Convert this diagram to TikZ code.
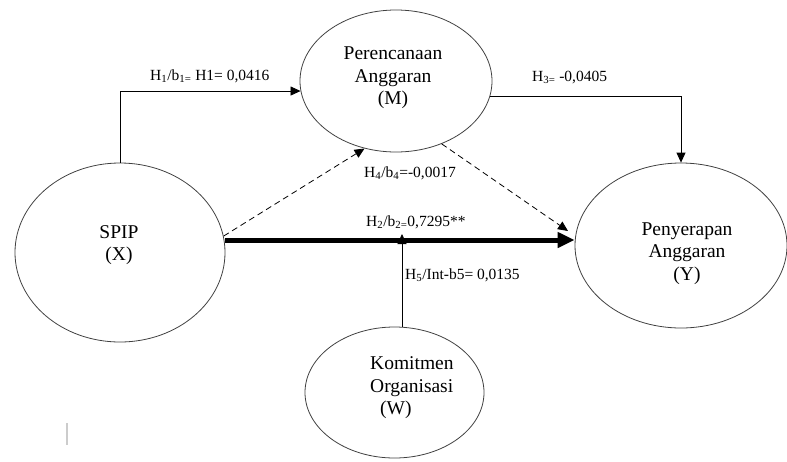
\documentclass[tikz,border=0pt]{standalone}
\usepackage{fontspec}
\setmainfont{Liberation Serif}
\usetikzlibrary{arrows.meta,shapes.geometric}
\begin{document}
\begin{tikzpicture}[x=1pt,y=-1pt,
  latent/.style={draw=black!75, line width=0.8pt, ellipse, inner sep=0pt},
  nodetext/.style={align=center, font=\fontsize{19.5}{22.5}\selectfont, inner sep=0pt},
  lab/.style={font=\fontsize{15.5}{18}\selectfont, inner sep=0pt, anchor=base west},
  conn/.style={draw=black, line width=0.8pt, -{Triangle[length=10pt,width=9pt]}},
  dconn/.style={conn, dash pattern=on 6pt off 4pt},
  bigconn/.style={draw=black, line width=5pt, -{Triangle[length=17pt,width=15pt]}}
]
\useasboundingbox (0,0) rectangle (787,461);

% latent variables
\node[latent, minimum width=210pt, minimum height=179pt] (x) at (120,252.5) {};
\node[latent, minimum width=192pt, minimum height=142pt] (m) at (396,81) {};
\node[latent, minimum width=212pt, minimum height=165pt] (y) at (681,245.5) {};
\node[latent, minimum width=179pt, minimum height=131pt] (w) at (394.5,392.5) {};

\node[nodetext] (xt) at (119,245) {SPIP\\(X)};
\node[nodetext] (mt) at (393,78) {Perencanaan\\Anggaran\\(M)};
\node[nodetext] (yt) at (687,253.5) {Penyerapan\\Anggaran\\(Y)};
\node[nodetext, align=left, anchor=west] (wt) at (370,387.7) {Komitmen\\Organisasi\\\hspace*{10pt}(W)};

% connectors
\coordinate (hl) at (0,240);
\coordinate (j) at (402,234);
\coordinate (dy) at (568,231);

\draw[conn] (x.north) |- (m.186.6);
\draw[conn] (m.351.5) -| (y.north);
\draw[dconn] (x.9) -- (m.245.2);
\draw[dconn] (m.306.3) -- (dy);
\draw[conn] (j |- w.north) -- (j);
\draw[bigconn] (x.east |- hl) -- (y.west |- hl);

% labels
\node[lab] (l1) at (150,80.7) {H\textsubscript{1}/b\textsubscript{1=} H1= 0,0416};
\node[lab] (l3) at (532,81) {H\textsubscript{3=} -0,0405};
\node[lab] (l2) at (366,226.7) {H\textsubscript{2}/b\textsubscript{2=}0,7295**};
\node[lab] (l4) at (364,177.3) {H\textsubscript{4}/b\textsubscript{4}=-0,0017};
\node[lab] (l5) at (405,279) {H\textsubscript{5}/Int-b5= 0,0135};

% small grey tick
\draw[black!20, line width=1.5pt] (67,423) -- (67,445);
\end{tikzpicture}
\end{document}
